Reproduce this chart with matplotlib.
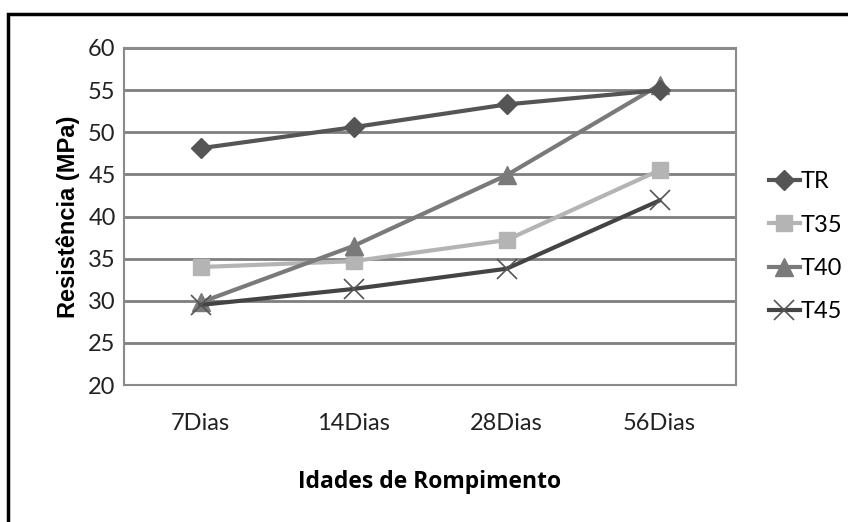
import matplotlib.pyplot as plt
from matplotlib.patches import Rectangle

# dados
idades = ['7Dias', '14Dias', '28Dias', '56Dias']
tr = [48.1, 50.6, 53.3, 55.0]
t35 = [34.0, 34.7, 37.2, 45.5]
t40 = [29.8, 36.5, 44.9, 55.6]
t45 = [29.5, 31.4, 33.8, 41.9]

fonte = ['Lato', 'DejaVu Sans']
plt.rcParams['font.family'] = fonte

fig = plt.figure(figsize=(8.48, 5.22), dpi=100)
ax = fig.add_axes([124 / 848, 1 - 385 / 522, (736 - 124) / 848, (385 - 48) / 522])

x = range(len(idades))
ax.plot(x, tr, color='#555555', lw=3, marker='D', ms=10, label='TR', zorder=4)
ax.plot(x, t35, color='#b4b4b4', lw=3, marker='s', ms=12, label='T35', zorder=3)
ax.plot(x, t40, color='#7a7a7a', lw=3, marker='^', ms=13, label='T40', zorder=3)
ax.plot(x, t45, color='#444444', lw=3, marker='x', ms=14, mew=1.2,
        mec='#555555', label='T45', zorder=3)

ax.set_xlim(-0.5, 3.5)
ax.set_ylim(20, 60)
ax.set_yticks(range(20, 61, 5))
ax.set_xticks(list(x))
ax.set_xticklabels(idades)
ax.yaxis.grid(True, color='#7f7f7f', lw=2)
ax.set_axisbelow(True)
ax.tick_params(length=0, labelsize=17, colors='#222222', pad=6)
ax.tick_params(axis='x', pad=20)
for s in ax.spines.values():
    s.set_color('#8a8a8a')
    s.set_linewidth(1.5)

ax.set_ylabel('Resistência (MPa)', fontsize=17, fontweight='bold',
              family='Liberation Sans', labelpad=6)
ax.set_xlabel('Idades de Rompimento', fontsize=16.5, fontweight='bold',
              family='Open Sans', labelpad=26)

ax.legend(loc='center left', bbox_to_anchor=(1.0, 0.41), frameon=False,
          fontsize=17, handlelength=1.3, handletextpad=0.05, labelspacing=0.95,
          borderaxespad=1.0)

# moldura externa
fig.patches.append(Rectangle((8 / 848, -0.1), 1.2, 1 - 14 / 522 + 0.1,
                             transform=fig.transFigure, fill=False,
                             edgecolor='black', lw=2.5))

fig.savefig('out.png', dpi=100)
